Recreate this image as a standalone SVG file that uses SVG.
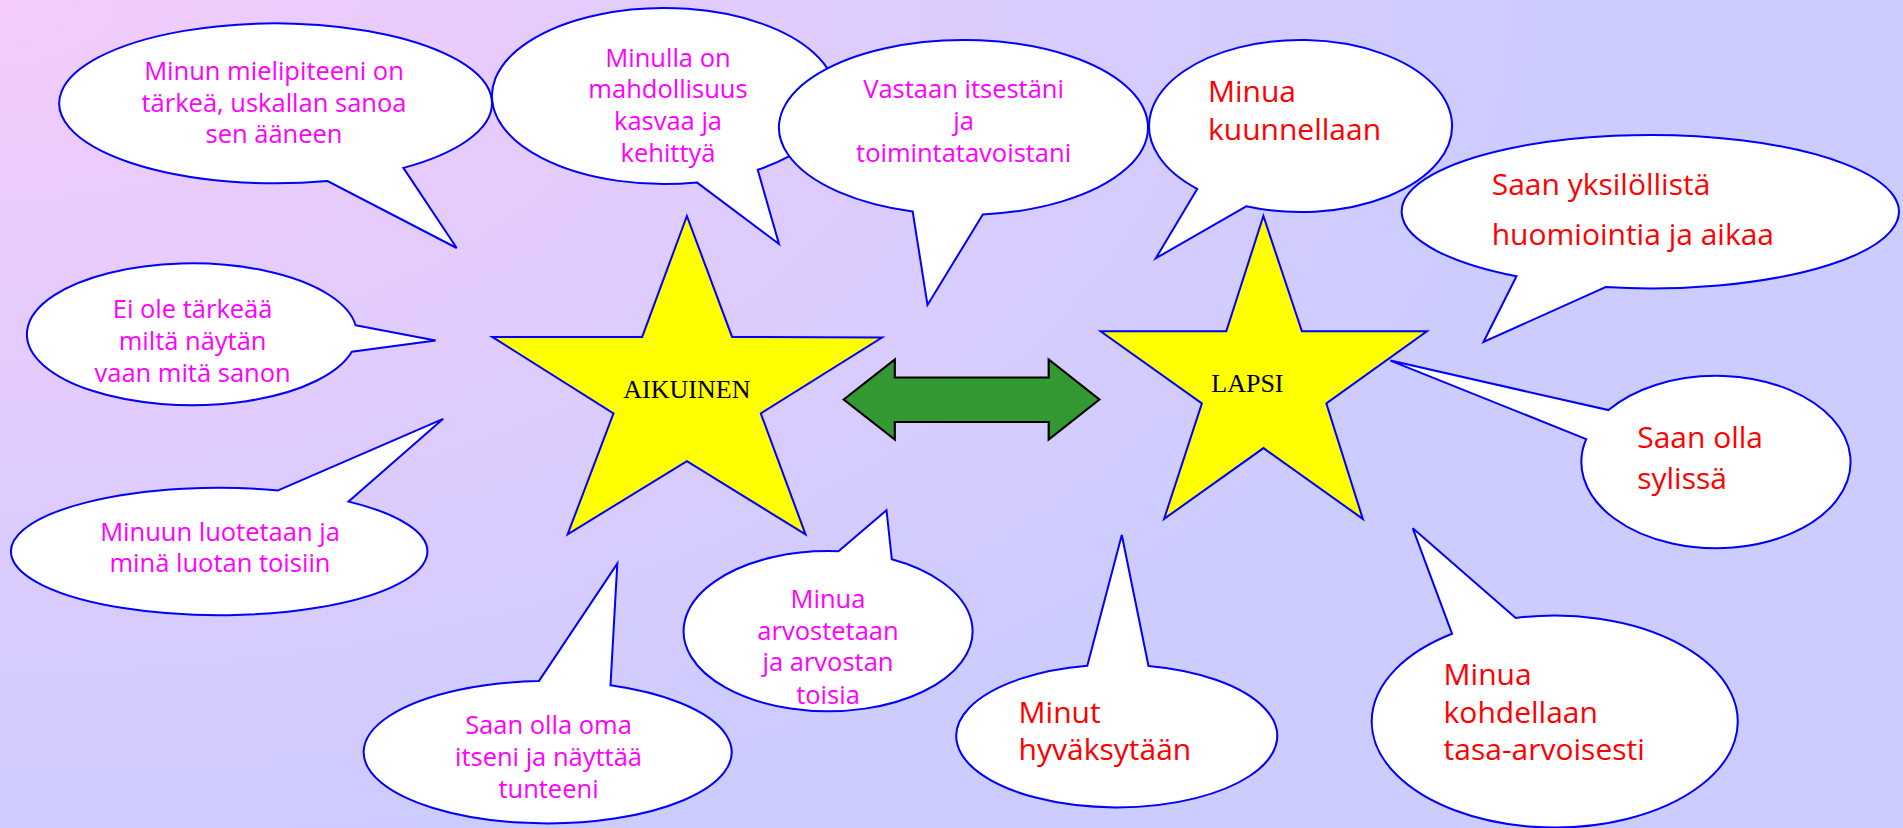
<svg xmlns="http://www.w3.org/2000/svg" width="1903" height="828" viewBox="0 0 1903 828">
<defs>
<radialGradient id="bg" gradientUnits="userSpaceOnUse" cx="0" cy="0" r="1600" gradientTransform="scale(1 0.56)">
<stop offset="0" stop-color="#F3CCFB"/>
<stop offset="1" stop-color="#CCCCFF"/>
</radialGradient>
<style>
.bub{fill:#FFFFFF;stroke:#0000FF;stroke-width:2;stroke-linejoin:miter}
.star{fill:#FFFF00;stroke:#0000FF;stroke-width:2}
.arrow{fill:#339933;stroke:#000000;stroke-width:2.2}
.m{font-family:"Open Sans","DejaVu Sans",sans-serif;font-size:25.5px;fill:#FF00FF;text-anchor:middle}
.r{font-family:"Open Sans","DejaVu Sans",sans-serif;font-size:30px;fill:#FF0000}
.lbl{font-family:"Liberation Serif","Times New Roman",serif;font-size:26px;fill:#000000;text-anchor:middle}
</style>
</defs>
<rect x="0" y="0" width="1903" height="828" fill="url(#bg)"/>

<g id="connectors">
<polygon class="arrow" points="843.7,399.5 894.8,359.5 894.8,377.5 1048.7,377.5 1048.7,359.5 1099.4,399.5 1048.7,439.5 1048.7,422 894.8,422 894.8,439.5"/>
</g>

<g id="star-aikuinen">
<polygon class="star" points="686.9,216 732.1,336.9 882,337.6 760.8,413.4 805.5,534.4 686.9,461.1 567.6,534.4 613.5,413.4 492.3,336.9 642.2,336.9"/>
<text class="lbl" x="686.9" y="398">AIKUINEN</text>
</g>

<g id="star-lapsi">
<polygon class="star" points="1263.4,216 1301.9,331.3 1426.9,331.3 1326.3,403.4 1362.8,518.9 1263.5,448.1 1164.1,518.9 1201.9,403.4 1100.6,331.3 1226.3,331.3"/>
<text class="lbl" x="1247.4" y="391.5">LAPSI</text>
</g>

<g id="b1">
<path class="bub" d="M 403.4 167.9 L 456.7 248 L 327.6 181 A 216.4 80 0 1 1 403.4 167.9 Z"/>
<text class="m" x="274" y="80">Minun mielipiteeni on</text>
<text class="m" x="274" y="112">tärkeä, uskallan sanoa</text>
<text class="m" x="274" y="143">sen ääneen</text>
</g>

<g id="b2">
<path class="bub" d="M 757.7 169.8 L 779 244 L 696.8 182.4 A 172 88 0 1 1 757.7 169.8 Z"/>
<text class="m" x="668" y="66.5">Minulla on</text>
<text class="m" x="668" y="98.3">mahdollisuus</text>
<text class="m" x="668" y="130">kasvaa ja</text>
<text class="m" x="668" y="161.7">kehittyä</text>
</g>

<g id="b3">
<path class="bub" d="M 982.8 214.5 L 927.5 305 L 912.7 211.6 A 184.5 87.5 0 1 1 982.8 214.5 Z"/>
<text class="m" x="963.6" y="98.3">Vastaan itsestäni</text>
<text class="m" x="963.6" y="130">ja</text>
<text class="m" x="963.6" y="161.7">toimintatavoistani</text>
</g>

<g id="b4">
<path class="bub" d="M 1246.2 206.3 L 1155.8 258.3 L 1197.2 188.9 A 151.5 86 0 1 1 1246.2 206.3 Z"/>
<text class="r" x="1208" y="101.7">Minua</text>
<text class="r" x="1208" y="140">kuunnellaan</text>
</g>

<g id="b5">
<path class="bub" d="M 1605.5 287.1 L 1483.5 342 L 1516.5 276.3 A 248.6 76.7 0 1 1 1605.5 287.1 Z"/>
<text class="r" x="1491.7" y="195">Saan yksilöllistä</text>
<text class="r" x="1491.7" y="245">huomiointia ja aikaa</text>
</g>

<g id="b6">
<path class="bub" d="M 355.6 325.3 L 435.6 340.5 L 351.8 351.8 A 165 70.9 0 1 1 355.6 325.3 Z"/>
<text class="m" x="192.6" y="318">Ei ole tärkeää</text>
<text class="m" x="192.6" y="350">miltä näytän</text>
<text class="m" x="192.6" y="382">vaan mitä sanon</text>
</g>

<g id="b7">
<path class="bub" d="M 278.1 490.4 L 443.2 418.8 L 348.6 501.6 A 208.2 63.7 0 1 1 278.1 490.4 Z"/>
<text class="m" x="220" y="540.5">Minuun luotetaan ja</text>
<text class="m" x="220" y="571.8">minä luotan toisiin</text>
</g>

<g id="b8">
<path class="bub" d="M 838.5 551.3 L 886.5 510.2 L 891.8 559.3 A 144.5 80.1 0 1 1 838.5 551.3 Z"/>
<text class="m" x="828" y="608">Minua</text>
<text class="m" x="828" y="640">arvostetaan</text>
<text class="m" x="828" y="671.4">ja arvostan</text>
<text class="m" x="828" y="704">toisia</text>
</g>

<g id="b9">
<path class="bub" d="M 538.9 681.1 L 617.3 563.6 L 610.5 685.3 A 184 71.2 0 1 1 538.9 681.1 Z"/>
<text class="m" x="548.5" y="734.4">Saan olla oma</text>
<text class="m" x="548.5" y="765.7">itseni ja näyttää</text>
<text class="m" x="548.5" y="797.8">tunteeni</text>
</g>

<g id="b10">
<path class="bub" d="M 1586.2 439.1 L 1390.4 360.6 L 1608.5 410.1 A 134.6 86.2 0 1 1 1586.2 439.1 Z"/>
<text class="r" x="1637.2" y="448">Saan olla</text>
<text class="r" x="1637.2" y="489.2">sylissä</text>
</g>

<g id="b11">
<path class="bub" d="M 1087.3 665.8 L 1121.8 535 L 1148.5 666 A 160.5 71.4 0 1 1 1087.3 665.8 Z"/>
<text class="r" x="1018.6" y="722.6">Minut</text>
<text class="r" x="1018.6" y="760.3">hyväksytään</text>
</g>

<g id="b12">
<path class="bub" d="M 1452.1 633.8 L 1412.8 528.3 L 1515.7 618 A 183 106 0 1 1 1452.1 633.8 Z"/>
<text class="r" x="1443.6" y="684.5">Minua</text>
<text class="r" x="1443.6" y="723.2">kohdellaan</text>
<text class="r" x="1443.6" y="760.3">tasa-arvoisesti</text>
</g>
</svg>
